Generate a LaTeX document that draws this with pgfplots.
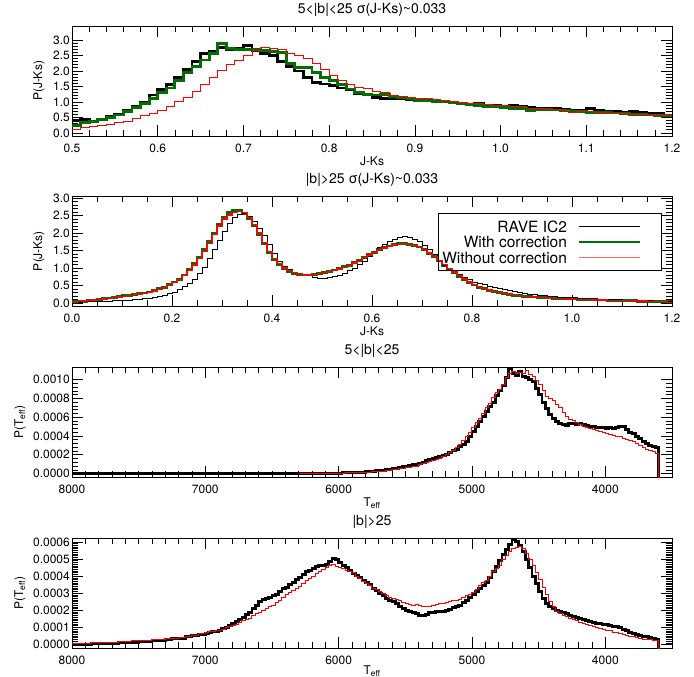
\documentclass[border=0pt]{standalone}
\usepackage{fontspec}
\setmainfont{TeX Gyre Heros}
\usepackage{pgfplots}
\usepackage{pgfplotstable}
\pgfplotsset{compat=1.18}

\definecolor{dgreen}{RGB}{0,110,0}
\definecolor{lpink}{RGB}{255,105,105}

% J-Ks histograms, bins of 0.01 (left edges), 5<|b|<25
\pgfplotstableread{
x rave with wo
0.50 0.40 0.25 0.12
0.51 0.42 0.33 0.18
0.52 0.38 0.36 0.20
0.53 0.45 0.42 0.24
0.54 0.52 0.50 0.28
0.55 0.60 0.58 0.33
0.56 0.72 0.68 0.38
0.57 0.85 0.82 0.46
0.58 1.00 0.95 0.55
0.59 1.22 1.10 0.62
0.60 1.40 1.30 0.72
0.61 1.55 1.45 0.85
0.62 1.78 1.70 1.00
0.63 2.05 1.95 1.15
0.64 2.30 2.15 1.35
0.65 2.55 2.35 1.55
0.66 2.62 2.55 1.80
0.67 2.75 2.88 2.00
0.68 2.70 2.72 2.20
0.69 2.72 2.70 2.35
0.70 2.82 2.68 2.50
0.71 2.65 2.68 2.65
0.72 2.55 2.65 2.75
0.73 2.50 2.62 2.72
0.74 2.30 2.60 2.70
0.75 2.15 2.25 2.55
0.76 2.00 2.12 2.50
0.77 1.80 2.10 2.40
0.78 1.62 1.95 2.25
0.79 1.58 1.80 2.05
0.80 1.52 1.68 1.85
0.81 1.45 1.55 1.70
0.82 1.40 1.42 1.55
0.83 1.28 1.30 1.48
0.84 1.22 1.25 1.42
0.85 1.15 1.22 1.35
0.86 1.12 1.25 1.30
0.87 1.10 1.18 1.22
0.88 1.12 1.15 1.18
0.89 1.08 1.10 1.15
0.90 1.05 1.05 1.12
0.91 1.05 1.05 1.10
0.92 1.02 1.02 1.08
0.93 1.00 1.00 1.05
0.94 0.98 0.98 1.00
0.95 0.95 0.94 0.98
0.96 0.92 0.92 0.95
0.97 0.95 0.88 0.94
0.98 0.90 0.85 0.92
0.99 0.88 0.85 0.90
1.00 0.85 0.83 0.87
1.01 0.88 0.80 0.86
1.02 0.86 0.80 0.85
1.03 0.82 0.72 0.80
1.04 0.80 0.74 0.78
1.05 0.78 0.75 0.76
1.06 0.78 0.74 0.74
1.07 0.76 0.73 0.72
1.08 0.74 0.70 0.66
1.09 0.72 0.68 0.70
1.10 0.78 0.66 0.68
1.11 0.72 0.65 0.66
1.12 0.70 0.66 0.64
1.13 0.68 0.64 0.62
1.14 0.66 0.62 0.62
1.15 0.68 0.60 0.60
1.16 0.66 0.60 0.58
1.17 0.64 0.58 0.55
1.18 0.62 0.56 0.60
1.19 0.58 0.55 0.55
1.20 0.58 0.55 0.55
}\jkLow

% J-Ks histograms, bins of 0.01 (left edges), |b|>25
\pgfplotstableread{
x rave with wo
0.00 0.02 0.03 0.02
0.01 0.02 0.04 0.03
0.02 0.03 0.05 0.05
0.03 0.03 0.07 0.06
0.04 0.04 0.08 0.08
0.05 0.04 0.10 0.09
0.06 0.05 0.12 0.11
0.07 0.05 0.14 0.13
0.08 0.06 0.16 0.15
0.09 0.06 0.18 0.17
0.10 0.07 0.20 0.19
0.11 0.08 0.22 0.21
0.12 0.09 0.24 0.23
0.13 0.10 0.26 0.25
0.14 0.12 0.28 0.27
0.15 0.14 0.31 0.30
0.16 0.16 0.35 0.34
0.17 0.19 0.40 0.38
0.18 0.22 0.45 0.44
0.19 0.26 0.52 0.50
0.20 0.31 0.60 0.58
0.21 0.38 0.68 0.67
0.22 0.46 0.80 0.78
0.23 0.56 0.95 0.92
0.24 0.68 1.12 1.08
0.25 0.84 1.30 1.27
0.26 1.02 1.52 1.48
0.27 1.26 1.75 1.70
0.28 1.52 2.00 1.95
0.29 1.80 2.25 2.20
0.30 2.05 2.45 2.40
0.31 2.28 2.58 2.52
0.32 2.44 2.65 2.58
0.33 2.52 2.66 2.62
0.34 2.55 2.55 2.58
0.35 2.48 2.42 2.45
0.36 2.33 2.20 2.25
0.37 2.12 1.95 2.00
0.38 1.92 1.70 1.72
0.39 1.68 1.45 1.48
0.40 1.42 1.25 1.27
0.41 1.20 1.10 1.12
0.42 1.05 0.98 1.00
0.43 0.95 0.90 0.92
0.44 0.87 0.84 0.86
0.45 0.82 0.81 0.82
0.46 0.80 0.80 0.80
0.47 0.78 0.80 0.80
0.48 0.74 0.82 0.82
0.49 0.70 0.85 0.84
0.50 0.70 0.88 0.86
0.51 0.72 0.90 0.90
0.52 0.75 0.94 0.93
0.53 0.80 0.98 0.97
0.54 0.85 1.03 1.02
0.55 0.92 1.08 1.07
0.56 1.00 1.15 1.14
0.57 1.10 1.22 1.21
0.58 1.20 1.30 1.29
0.59 1.32 1.38 1.37
0.60 1.45 1.45 1.44
0.61 1.58 1.52 1.52
0.62 1.68 1.58 1.57
0.63 1.76 1.63 1.62
0.64 1.82 1.67 1.66
0.65 1.87 1.70 1.68
0.66 1.90 1.70 1.69
0.67 1.88 1.68 1.67
0.68 1.83 1.65 1.64
0.69 1.75 1.60 1.59
0.70 1.65 1.52 1.52
0.71 1.52 1.42 1.43
0.72 1.38 1.32 1.33
0.73 1.22 1.20 1.22
0.74 1.08 1.08 1.10
0.75 0.98 0.97 0.99
0.76 0.90 0.86 0.88
0.77 0.82 0.76 0.78
0.78 0.74 0.66 0.68
0.79 0.66 0.58 0.60
0.80 0.60 0.51 0.53
0.81 0.56 0.45 0.47
0.82 0.52 0.40 0.42
0.83 0.48 0.36 0.37
0.84 0.45 0.32 0.33
0.85 0.42 0.29 0.30
0.86 0.38 0.26 0.27
0.87 0.35 0.24 0.25
0.88 0.32 0.22 0.23
0.89 0.29 0.20 0.21
0.90 0.27 0.19 0.19
0.91 0.25 0.18 0.18
0.92 0.23 0.17 0.17
0.93 0.22 0.16 0.16
0.94 0.20 0.15 0.15
0.95 0.19 0.14 0.14
0.96 0.18 0.13 0.13
0.97 0.17 0.13 0.13
0.98 0.16 0.12 0.12
0.99 0.16 0.11 0.11
1.00 0.15 0.11 0.10
1.01 0.14 0.10 0.10
1.02 0.13 0.10 0.09
1.03 0.12 0.09 0.09
1.04 0.12 0.09 0.08
1.05 0.11 0.08 0.08
1.06 0.10 0.08 0.08
1.07 0.10 0.07 0.07
1.08 0.09 0.07 0.07
1.09 0.09 0.07 0.06
1.10 0.08 0.06 0.06
1.11 0.08 0.06 0.06
1.12 0.07 0.06 0.05
1.13 0.07 0.05 0.05
1.14 0.06 0.05 0.05
1.15 0.06 0.05 0.04
1.16 0.05 0.04 0.04
1.17 0.05 0.04 0.03
1.18 0.04 0.03 0.03
1.19 0.04 0.03 0.02
1.20 0.04 0.03 0.02
}\jkHigh

% Teff histograms, P(Teff) in units of 1e-4, 5<|b|<25
\pgfplotstableread{
T P
8000 0.00
7800 0.01
7600 0.00
7400 0.01
7200 0.01
7000 0.02
6800 0.02
6600 0.02
6400 0.03
6200 0.04
6100 0.05
6000 0.06
5975 0.07
5950 0.09
5925 0.10
5900 0.12
5875 0.14
5850 0.15
5825 0.17
5800 0.19
5775 0.22
5750 0.25
5725 0.30
5700 0.33
5675 0.38
5650 0.42
5625 0.48
5600 0.52
5575 0.58
5550 0.66
5525 0.72
5500 0.78
5475 0.85
5450 0.92
5425 1.02
5400 1.10
5375 1.22
5350 1.35
5325 1.45
5300 1.58
5275 1.70
5250 1.82
5225 1.95
5200 2.08
5175 2.25
5150 2.42
5125 2.60
5100 2.85
5075 3.10
5050 3.45
5025 3.90
5000 4.50
4975 5.00
4950 5.55
4925 6.10
4900 6.60
4875 7.10
4850 7.60
4825 8.30
4800 8.85
4775 9.40
4750 10.20
4725 11.20
4700 10.60
4675 10.40
4650 10.90
4625 10.30
4600 10.20
4575 10.00
4550 9.80
4525 9.10
4500 8.40
4475 7.60
4450 6.90
4425 6.30
4400 5.90
4375 5.50
4350 5.30
4325 5.25
4300 5.15
4275 5.30
4250 5.35
4225 5.25
4200 5.30
4175 5.20
4150 5.10
4125 5.05
4100 5.00
4075 4.95
4050 4.90
4025 4.95
4000 4.85
3975 4.95
3950 4.80
3925 4.90
3900 5.05
3875 5.00
3850 4.70
3825 4.40
3800 4.30
3775 4.00
3750 3.70
3725 3.45
3700 3.20
3675 3.00
3650 2.90
3625 2.75
3600 -0.40
3590 -0.40
}\teffLowRave

\pgfplotstableread{
T P
6300 0.00
6200 0.02
6100 0.03
6000 0.05
5950 0.07
5900 0.09
5850 0.12
5800 0.15
5750 0.20
5700 0.27
5650 0.35
5600 0.45
5550 0.56
5500 0.68
5450 0.80
5400 0.92
5375 1.05
5350 1.15
5325 1.25
5300 1.35
5275 1.50
5250 1.65
5225 1.80
5200 2.00
5175 2.25
5150 2.50
5125 2.75
5100 3.05
5075 3.50
5050 3.95
5025 4.40
5000 4.90
4975 5.40
4950 5.90
4925 6.40
4900 7.00
4875 7.50
4850 8.10
4825 8.60
4800 9.00
4775 9.50
4750 10.20
4725 10.60
4700 10.90
4675 10.60
4650 10.80
4625 10.70
4600 11.00
4575 10.50
4550 10.30
4525 9.90
4500 9.50
4475 8.80
4450 8.20
4425 8.00
4400 7.80
4375 7.40
4350 7.00
4325 6.50
4300 6.10
4275 5.80
4250 5.60
4225 5.40
4200 5.20
4175 5.00
4150 4.90
4125 4.80
4100 4.70
4075 4.55
4050 4.45
4025 4.40
4000 4.30
3975 4.20
3950 4.10
3925 3.95
3900 3.90
3875 3.70
3850 3.60
3825 3.50
3800 3.40
3775 3.20
3750 3.00
3725 2.80
3700 2.60
3675 2.50
3650 2.30
3625 2.10
3600 -0.40
3590 -0.40
}\teffLowModel

% Teff histograms, P(Teff) in units of 1e-4, |b|>25
\pgfplotstableread{
T P
8000 0.00
7950 0.02
7900 0.03
7850 0.05
7800 0.06
7750 0.08
7700 0.09
7650 0.11
7600 0.13
7550 0.14
7500 0.16
7450 0.18
7400 0.21
7350 0.24
7300 0.28
7250 0.33
7200 0.38
7150 0.45
7100 0.52
7050 0.58
7000 0.65
6975 0.70
6950 0.75
6925 0.78
6900 0.85
6875 0.92
6850 1.02
6825 1.12
6800 1.22
6775 1.35
6750 1.48
6725 1.60
6700 1.75
6675 1.90
6650 2.10
6625 2.30
6600 2.50
6575 2.62
6550 2.70
6525 2.75
6500 2.85
6475 2.95
6450 3.10
6425 3.25
6400 3.35
6375 3.50
6350 3.65
6325 3.80
6300 3.95
6275 4.10
6250 4.25
6225 4.35
6200 4.45
6175 4.55
6150 4.60
6125 4.65
6100 4.70
6075 4.85
6050 5.05
6025 4.95
6000 4.80
5975 4.65
5950 4.50
5925 4.35
5900 4.15
5875 4.05
5850 3.90
5825 3.75
5800 3.65
5775 3.50
5750 3.30
5725 3.15
5700 3.00
5675 2.85
5650 2.72
5625 2.60
5600 2.50
5575 2.38
5550 2.25
5525 2.12
5500 2.02
5475 1.95
5450 1.88
5425 1.80
5400 1.72
5375 1.68
5350 1.78
5325 1.85
5300 1.90
5275 1.92
5250 1.95
5225 1.93
5200 1.98
5175 2.05
5150 2.15
5125 2.22
5100 2.30
5075 2.45
5050 2.60
5025 2.75
5000 2.90
4975 3.10
4950 3.30
4925 3.45
4900 3.65
4875 3.95
4850 4.25
4825 4.55
4800 4.90
4775 5.25
4750 5.55
4725 5.85
4700 6.15
4675 6.05
4650 5.80
4625 5.45
4600 5.00
4575 4.50
4550 4.00
4525 3.55
4500 3.10
4475 2.70
4450 2.40
4425 2.20
4400 2.10
4375 2.00
4350 1.92
4325 1.85
4300 1.80
4275 1.72
4250 1.65
4225 1.58
4200 1.50
4175 1.45
4150 1.38
4125 1.33
4100 1.30
4075 1.25
4050 1.22
4025 1.20
4000 1.18
3975 1.12
3950 1.08
3925 1.05
3900 1.00
3875 0.90
3850 0.80
3825 0.72
3800 0.65
3775 0.58
3750 0.52
3725 0.48
3700 0.45
3675 0.40
3650 0.35
3625 0.30
3600 -0.25
3590 -0.25
}\teffHighRave

\pgfplotstableread{
T P
8000 0.05
7950 0.07
7900 0.08
7850 0.10
7800 0.12
7750 0.14
7700 0.15
7650 0.17
7600 0.20
7550 0.22
7500 0.24
7450 0.26
7400 0.28
7350 0.30
7300 0.34
7250 0.38
7200 0.42
7150 0.48
7100 0.55
7050 0.62
7000 0.70
6975 0.74
6950 0.78
6925 0.80
6900 0.85
6875 0.90
6850 0.98
6825 1.05
6800 1.10
6775 1.20
6750 1.30
6725 1.38
6700 1.45
6675 1.55
6650 1.68
6625 1.80
6600 1.90
6575 2.00
6550 2.10
6525 2.20
6500 2.30
6475 2.45
6450 2.60
6425 2.75
6400 2.90
6375 3.02
6350 3.15
6325 3.30
6300 3.40
6275 3.55
6250 3.72
6225 3.88
6200 4.00
6175 4.15
6150 4.30
6125 4.40
6100 4.50
6075 4.60
6050 4.70
6025 4.55
6000 4.50
5975 4.45
5950 4.35
5925 4.30
5900 4.20
5875 4.00
5850 3.85
5825 3.70
5800 3.60
5775 3.45
5750 3.30
5725 3.20
5700 3.10
5675 3.00
5650 2.88
5625 2.78
5600 2.70
5575 2.62
5550 2.55
5525 2.48
5500 2.42
5475 2.35
5450 2.30
5425 2.32
5400 2.28
5375 2.25
5350 2.22
5325 2.25
5300 2.28
5275 2.35
5250 2.40
5225 2.42
5200 2.45
5175 2.50
5150 2.55
5125 2.58
5100 2.62
5075 2.75
5050 2.85
5025 2.95
5000 3.05
4975 3.20
4950 3.45
4925 3.65
4900 3.75
4875 4.00
4850 4.25
4825 4.45
4800 4.65
4775 4.95
4750 5.20
4725 5.45
4700 5.60
4675 5.70
4650 5.75
4625 5.60
4600 5.35
4575 5.00
4550 4.65
4525 4.20
4500 3.80
4475 3.35
4450 2.90
4425 2.50
4400 2.20
4375 1.95
4350 1.80
4325 1.72
4300 1.65
4275 1.55
4250 1.45
4225 1.38
4200 1.30
4175 1.22
4150 1.15
4125 1.10
4100 1.05
4075 1.00
4050 0.95
4025 0.90
4000 0.85
3975 0.80
3950 0.72
3925 0.68
3900 0.65
3875 0.60
3850 0.55
3825 0.50
3800 0.45
3775 0.40
3750 0.35
3725 0.32
3700 0.30
3675 0.28
3650 0.26
3625 0.25
3600 -0.25
3590 -0.25
}\teffHighModel

\pgfplotsset{
  panel/.style={
    scale only axis, width=600bp, height=110bp,
    anchor=north west,
    axis line style={line width=0.9pt},
    tick align=inside,
    major tick length=11bp, minor tick length=6bp,
    every tick/.style={black, line width=0.7pt},
    /pgf/number format/assume math mode=true,
    /pgf/number format/1000 sep={},
    tick label style={font=\fontsize{12bp}{14bp}\selectfont},
    xticklabel style={anchor=base, yshift=-16.5bp},
    yticklabel style={anchor=east, inner sep=0pt, xshift=-2bp},
    title style={font=\fontsize{14bp}{16bp}\selectfont, at={(0.5,1)}, anchor=base, yshift=6.5bp},
    xlabel style={font=\fontsize{12bp}{14bp}\selectfont, at={(0.5,0)}, anchor=base, yshift=-29.5bp},
    ylabel style={font=\fontsize{12bp}{14bp}\selectfont, anchor=center},
    every axis plot/.append style={const plot, no marks},
  },
  jkpanel/.style={
    panel,
    ytick={0,0.5,...,3.0},
    yticklabel style={/pgf/number format/.cd, fixed, fixed zerofill, precision=1},
    xticklabel style={/pgf/number format/.cd, fixed, fixed zerofill, precision=1},
    minor y tick num=4,
    ylabel={P(J-Ks)},
    ylabel style={at={(-0.055,0.5)}},
    xlabel={J-Ks},
  },
  teffpanel/.style={
    panel,
    x dir=reverse, xmin=3500, xmax=8000,
    xtick={4000,5000,6000,7000,8000},
    minor x tick num=9,
    ylabel={P(T\textsubscript{eff})},
    ylabel style={at={(-0.0867,0.5)}},
    xlabel={T\textsubscript{eff}},
  },
}

\begin{document}
\begin{tikzpicture}
\path[use as bounding box] (0bp,0bp) rectangle (694bp,-677bp);

% J-Ks, low latitudes
\begin{axis}[jkpanel, at={(72bp,-26bp)},
  xmin=0.5, xmax=1.2, ymin=-0.1, ymax=3.45,
  xtick={0.5,0.6,...,1.21}, minor x tick num=4,
  title={5<|b|<25 σ(J-Ks)\textasciitilde 0.033}]
\addplot[black, line width=2.8pt] table[x=x, y=rave] {\jkLow};
\addplot[dgreen, line width=2.8pt] table[x=x, y=with] {\jkLow};
\addplot[red, line width=1pt] table[x=x, y=wo] {\jkLow};
\end{axis}

% J-Ks, high latitudes
\begin{axis}[jkpanel, at={(72bp,-196bp)},
  xmin=0, xmax=1.2, ymin=-0.09, ymax=3.06,
  xtick={0,0.2,...,1.21}, minor x tick num=3,
  title={|b|>25 σ(J-Ks)\textasciitilde 0.033},
  legend cell align=right, legend plot pos=right,
  legend image code/.code={\draw[#1] (0bp,0bp) -- (61bp,0bp); \path (-11bp,0bp) (77bp,0bp);},
  legend style={at={(0.9833,0.845)}, anchor=north east, draw=black, line width=0.9pt,
    fill=none, font=\fontsize{15.5bp}{15.5bp}\selectfont, inner xsep=4bp, inner ysep=5.25bp,
    row sep=0pt, nodes={inner sep=0pt, text height=13.5bp, text depth=2bp}}]
\addlegendimage{black, line width=0.8pt}
\addlegendentry{RAVE IC2}
\addlegendimage{dgreen, line width=2.6pt}
\addlegendentry{With correction}
\addlegendimage{lpink, line width=1.6pt}
\addlegendentry{Without correction}
\addplot[dgreen, line width=2.8pt, forget plot] table[x=x, y=with] {\jkHigh};
\addplot[black, line width=0.8pt, forget plot] table[x=x, y=rave] {\jkHigh};
\addplot[red, line width=1.3pt, forget plot] table[x=x, y=wo] {\jkHigh};
\end{axis}

% Teff, low latitudes
\begin{axis}[teffpanel, at={(72bp,-367bp)},
  ymin=-0.36, ymax=11.34,
  ytick={0,2,4,6,8,10}, minor y tick num=4,
  yticklabels={0.0000,0.0002,0.0004,0.0006,0.0008,0.0010},
  title={5<|b|<25}]
\addplot[black, line width=3pt] table[x=T, y=P] {\teffLowRave};
\addplot[red, line width=1pt] table[x=T, y=P] {\teffLowModel};
\end{axis}

% Teff, high latitudes
\begin{axis}[teffpanel, at={(72bp,-538bp)},
  ymin=-0.2, ymax=6.23,
  ytick={0,1,2,3,4,5,6}, minor y tick num=9,
  yticklabels={0.0000,0.0001,0.0002,0.0003,0.0004,0.0005,0.0006},
  xlabel style={yshift=3.5bp},
  title={|b|>25}]
\addplot[black, line width=3pt] table[x=T, y=P] {\teffHighRave};
\addplot[red, line width=1pt] table[x=T, y=P] {\teffHighModel};
\end{axis}
\end{tikzpicture}
\end{document}
